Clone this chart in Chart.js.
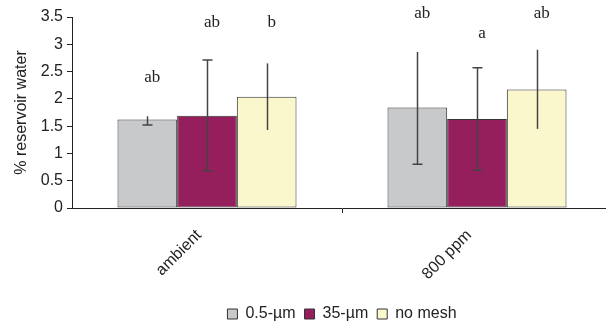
<!DOCTYPE html>
<html>
<head>
<meta charset="utf-8">
<script src="https://cdn.jsdelivr.net/npm/chart.js@4"></script>
<style>
  html, body { margin: 0; padding: 0; background: #fff; overflow: hidden; }
  #wrap { width: 614px; height: 325px; }
</style>
</head>
<body>
<div id="wrap"><canvas id="chart"></canvas></div>
<script>
// categories and series
const categories = ['ambient', '800 ppm'];
const seriesNames = ['0.5-\u00b5m', '35-\u00b5m', 'no mesh'];
const seriesColors = ['#c8c9cb', '#951e5c', '#faf7cd'];

const meanValues = [
  [1.62, 1.84],
  [1.69, 1.63],
  [2.04, 2.17]
];
const errLow = [
  [1.52, 0.80],
  [0.68, 0.69],
  [1.43, 1.45]
];
const errHigh = [
  [1.68, 2.86],
  [2.71, 2.57],
  [2.65, 2.90]
];
// which ends of the error bar show a cap
const capLow = [[true, true], [true, true], [false, false]];
const capHigh = [[false, false], [true, true], [false, false]];

// significance letters and the level they sit at
const letters = [
  ['ab', 'ab'],
  ['ab', 'a'],
  ['b', 'ab']
];
const letterLevel = [
  [2.39, 3.57],
  [3.39, 3.20],
  [3.39, 3.57]
];

const yTicks = [0, 0.5, 1, 1.5, 2, 2.5, 3, 3.5];

const FONT = '"Liberation Sans", Arial, sans-serif';

const errorBars = {
  id: 'errorBars',
  afterDatasetsDraw(chart) {
    const { ctx, scales: { y } } = chart;
    ctx.save();
    seriesNames.forEach((_, i) => {
      const meta = chart.getDatasetMeta(i);
      meta.data.forEach((bar, j) => {
        const x = Math.round(bar.x) + 0.5;
        const yl = y.getPixelForValue(errLow[i][j]);
        const yh = y.getPixelForValue(errHigh[i][j]);
        ctx.strokeStyle = '#444';
        ctx.lineWidth = 1.5;
        ctx.beginPath();
        ctx.moveTo(x, yl);
        ctx.lineTo(x, yh);
        if (capLow[i][j]) { ctx.moveTo(x - 5, yl); ctx.lineTo(x + 5, yl); }
        if (capHigh[i][j]) { ctx.moveTo(x - 5, yh); ctx.lineTo(x + 5, yh); }
        ctx.stroke();

        ctx.fillStyle = '#222';
        ctx.font = '17px "Liberation Serif", serif';
        ctx.textAlign = 'center';
        ctx.textBaseline = 'middle';
        ctx.fillText(letters[i][j], bar.x + 5, y.getPixelForValue(letterLevel[i][j]));
      });
    });
    ctx.restore();
  }
};

new Chart(document.getElementById('chart'), {
  type: 'bar',
  data: {
    labels: categories,
    datasets: seriesNames.map((name, i) => ({
      label: name,
      data: meanValues[i],
      backgroundColor: seriesColors[i],
      borderColor: '#333',
      borderWidth: 1,
      borderSkipped: false,
      categoryPercentage: 0.663,
      barPercentage: 1.0
    }))
  },
  options: {
    responsive: true,
    maintainAspectRatio: false,
    animation: false,
    layout: { padding: { top: 17, right: 2, bottom: -7, left: 0 } },
    plugins: {
      tooltip: { enabled: false },
      legend: {
        position: 'bottom',
        fullSize: false,
        labels: {
          color: '#222',
          font: { family: FONT, size: 16 },
          boxWidth: 10,
          boxHeight: 10,
          padding: 9
        }
      }
    },
    scales: {
      x: {
        grid: {
          offset: true,
          drawOnChartArea: false,
          drawTicks: true,
          tickLength: 5,
          color: (c) => (c.index === 1 ? '#222' : 'rgba(0,0,0,0)')
        },
        border: { color: '#222', width: 1 },
        ticks: {
          color: '#222',
          font: { family: FONT, size: 16 },
          maxRotation: 45,
          minRotation: 45,
          padding: 13,
          labelOffset: -8
        },
        afterFit: (s) => { s.height = 89; }
      },
      y: {
        min: 0,
        max: 3.5,
        afterBuildTicks: (s) => { s.ticks = yTicks.map(v => ({ value: v })); },
        grid: { drawOnChartArea: false, drawTicks: true, tickLength: 5, color: '#222' },
        border: { color: '#222', width: 1 },
        ticks: {
          color: '#222',
          padding: 4,
          font: { family: FONT, size: 16 },
          callback: (v) => String(v)
        },
        title: {
          display: true,
          text: '% reservoir water',
          color: '#222',
          font: { family: FONT, size: 16 },
          padding: { top: 12, bottom: 0 }
        },
        afterFit: (s) => { s.width = 72; }
      }
    }
  },
  plugins: [errorBars]
});
</script>
</body>
</html>
